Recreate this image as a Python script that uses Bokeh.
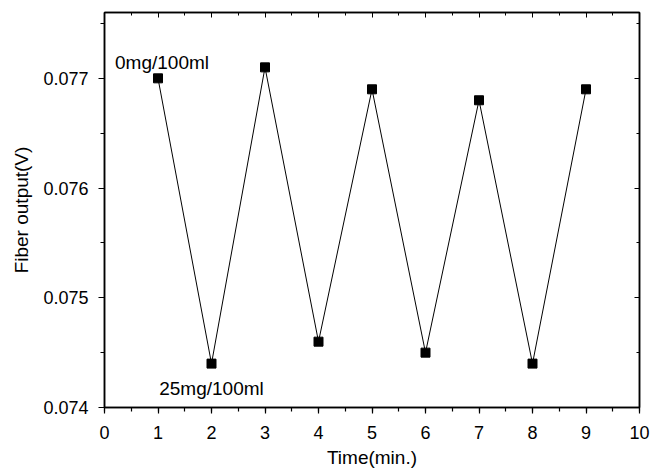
from bokeh.plotting import figure
from bokeh.models import LinearAxis, Range1d, SingleIntervalTicker, ColumnDataSource, CustomJSTickFormatter
from bokeh.embed import file_html
from bokeh.resources import INLINE
from bokeh.core.properties import value

time_min = [1, 2, 3, 4, 5, 6, 7, 8, 9]
fiber_v = [0.0770, 0.0744, 0.0771, 0.0746, 0.0769, 0.0745, 0.0768, 0.0744, 0.0769]
ann_x = [1, 2]
ann_y = [0.0770, 0.0744]
ann_text = ["0mg/100ml", "25mg/100ml"]

FONT = "Liberation Sans"
TICK_FS = "18px"
FS = "19px"

p = figure(width=653, height=470, output_backend="svg", toolbar_location=None,
           x_range=Range1d(0, 10), y_range=Range1d(0.074, 0.0776),
           min_border_left=104, min_border_right=14, min_border_top=12, min_border_bottom=60,
           x_axis_label="Time(min.)", y_axis_label="Fiber output(V)")
p.grid.visible = False
p.outline_line_color = "black"
p.outline_line_width = 1.5
p.background_fill_color = "white"
p.border_fill_color = "white"

for ax in p.xaxis + p.yaxis:
    ax.axis_line_width = 1.5
    ax.major_tick_line_width = 1.2
    ax.minor_tick_line_width = 1.2
    ax.major_tick_in = 0
    ax.major_tick_out = 6
    ax.minor_tick_in = 0
    ax.minor_tick_out = 4
    ax.major_label_text_font = FONT
    ax.major_label_text_font_size = TICK_FS
    ax.major_label_text_color = "black"
    ax.axis_label_text_font = FONT
    ax.axis_label_text_font_size = FS
    ax.axis_label_text_font_style = "normal"
    ax.axis_label_text_color = "black"

p.xaxis.ticker = SingleIntervalTicker(interval=1, num_minor_ticks=2)
p.yaxis.ticker = SingleIntervalTicker(interval=0.001, num_minor_ticks=2)
p.xaxis.major_label_standoff = 12
p.yaxis.major_label_standoff = 10
p.xaxis.axis_label_standoff = 5
p.yaxis.axis_label_standoff = 8

blank = CustomJSTickFormatter(code="return ''")
top = LinearAxis(ticker=SingleIntervalTicker(interval=1, num_minor_ticks=2),
                 major_tick_in=5, major_tick_out=0, minor_tick_in=3, minor_tick_out=0,
                 formatter=blank, major_label_standoff=0, axis_line_width=1.5)
right = LinearAxis(ticker=SingleIntervalTicker(interval=0.001, num_minor_ticks=2),
                   major_tick_in=5, major_tick_out=0, minor_tick_in=3, minor_tick_out=0,
                   formatter=blank, major_label_standoff=0, axis_line_width=1.5)
p.add_layout(top, "above")
p.add_layout(right, "right")

src = ColumnDataSource(dict(x=time_min, y=fiber_v))
p.line("x", "y", source=src, line_color="black", line_width=1)
p.scatter("x", "y", source=src, marker="square", size=9, fill_color="black", line_color="black")

p.text(x=ann_x[:1], y=ann_y[:1], text=ann_text[:1], text_align="center", text_baseline="bottom",
       x_offset=4, y_offset=-5, text_font=value(FONT), text_font_size=FS, text_color="black")
p.text(x=ann_x[1:], y=ann_y[1:], text=ann_text[1:], text_align="center", text_baseline="top",
       y_offset=14, text_font=value(FONT), text_font_size=FS, text_color="black")

open("out.html", "w").write(file_html(p, INLINE))
